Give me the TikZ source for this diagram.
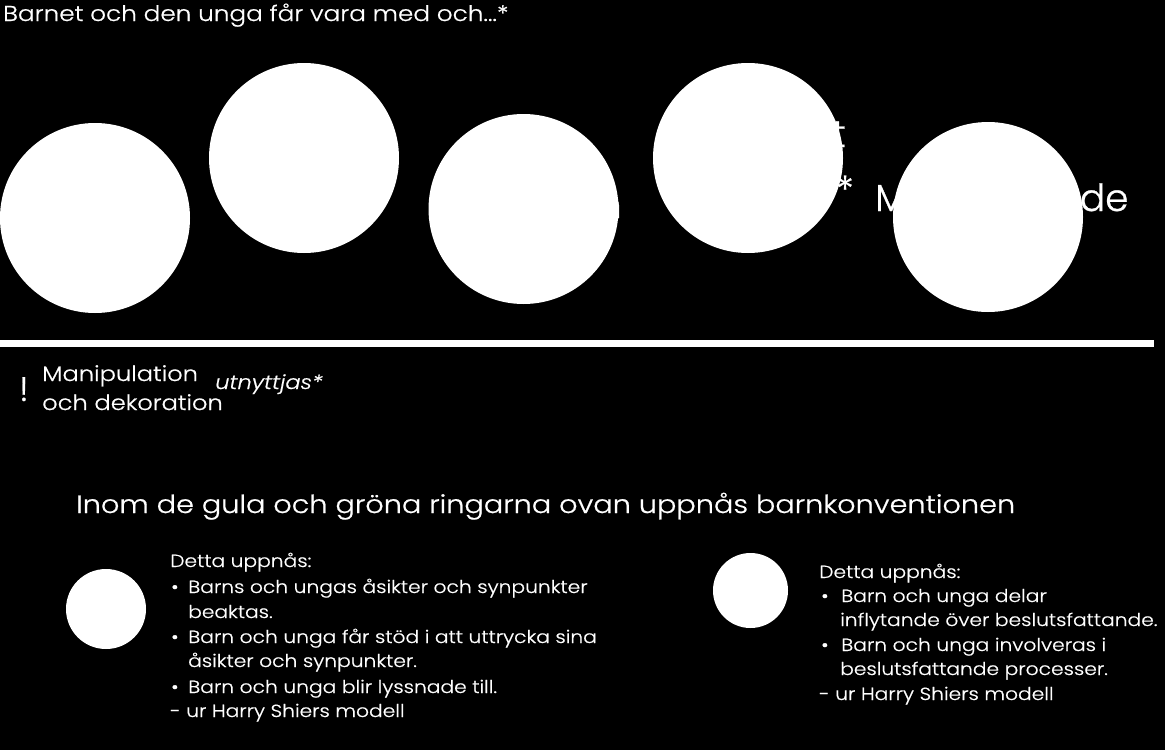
\documentclass[tikz,border=0pt]{standalone}
\usepackage{fontspec}
\setmainfont{Poppins}[UprightFont={* Light}, ItalicFont={* Light Italic}, FakeStretch=1.15, FakeBold=0.7]
\newfontfamily\lblfont{Poppins Light}[FakeBold=0.7]
\begin{document}
\begin{tikzpicture}[x=1pt,y=-1pt,
  txt/.style={text=white, inner sep=0pt, anchor=base west},
  title/.style={txt, font=\fontsize{21.5}{25}\selectfont},
  head/.style={txt, font=\fontsize{25}{30}\selectfont},
  body/.style={txt, font=\fontsize{17.6}{21}\selectfont},
  mid/.style={txt, font=\fontsize{21}{27}\selectfont},
  lbl/.style={txt, font=\lblfont\fontsize{37.5}{40}\selectfont},
  bigc/.style={circle, fill=white, minimum size=190pt, inner sep=0pt},
  smallc/.style={circle, fill=white, inner sep=0pt}]
\fill[black] (0,0) rectangle (1165,750);
\useasboundingbox (0,0) rectangle (1165,750);
% labels partly hidden behind the circles
\node[lbl, anchor=base east] (l3) at (622,218) {Påverkan};
\node[lbl, anchor=base east] (l4a) at (846,147) {Delat};
\node[lbl, anchor=base east] (l4b) at (854,203) {Självstyre*};
\node[lbl] (l5) at (875,211) {Medverkande};
% big circles
\node[bigc] (c1) at (95,218) {};
\node[bigc] (c2) at (304,158) {};
\node[bigc] (c3) at (523.5,209) {};
\node[bigc] (c4) at (748,158) {};
\node[bigc] (c5) at (988,217) {};
% title
\node[title] (t) at (3,21) {Barnet och den unga får vara med och...*};
% divider
\fill[white] (0,340) rectangle (1154,347);
% below line
\node[txt, font=\lblfont\fontsize{34}{38}\selectfont] (ex) at (19,401) {!};
\node[mid] (m1) at (42,381) {Manipulation};
\node[mid] (m2) at (42,410) {och dekoration};
\node[txt, font=\fontsize{19.6}{24}\selectfont\itshape] (ut) at (215,389) {utnyttjas*};
\node[head] (h) at (76,513) {Inom de gula och gröna ringarna ovan uppnås barnkonventionen};
% left legend
\node[smallc, minimum size=80pt] (s1) at (106,609) {};
\node[body] (a0) at (170,567) {Detta uppnås:};
\node[body] (ab1) at (171,593) {•};
\node[body] (a1) at (188,593) {Barns och ungas åsikter och synpunkter};
\node[body] (a2) at (188,618) {beaktas.};
\node[body] (ab2) at (171,643) {•};
\node[body] (a3) at (188,643) {Barn och unga får stöd i att uttrycka sina};
\node[body] (a4) at (188,667) {åsikter och synpunkter.};
\node[body] (ab3) at (171,693) {•};
\node[body] (a5) at (188,693) {Barn och unga blir lyssnade till.};
\node[body] (a6) at (170,717) {- ur Harry Shiers modell};
% right legend
\node[smallc, minimum size=75pt] (s2) at (750.5,590.5) {};
\node[body] (b0) at (819,578) {Detta uppnås:};
\node[body] (bb1) at (821,602) {•};
\node[body] (b1) at (841,602) {Barn och unga delar};
\node[body] (b2) at (840,626) {inflytande över beslutsfattande.};
\node[body] (bb2) at (821,651) {•};
\node[body] (b3) at (841,651) {Barn och unga involveras i};
\node[body] (b4) at (840,675) {beslutsfattande processer.};
\node[body] (b5) at (819,700) {- ur Harry Shiers modell};
\end{tikzpicture}
\end{document}
